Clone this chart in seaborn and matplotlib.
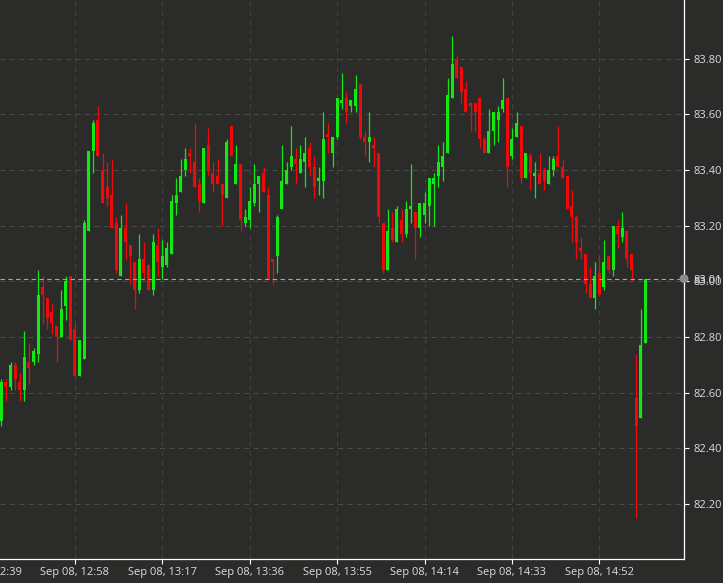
import matplotlib
matplotlib.use("Agg")
import matplotlib.pyplot as plt
import seaborn as sns
import pandas as pd
import numpy as np

# ---- data: 1-minute candles, Sep 08 12:42 -> 15:02 ----
opens = [
    82.50, 82.64, 82.62, 82.70, 82.64, 82.61, 82.71, 82.71, 82.74, 82.98,
    82.94, 82.89, 82.84, 82.80, 82.91, 83.02, 82.83, 82.66, 82.72, 83.18,
    83.47, 83.58, 83.40, 83.34, 83.31, 83.21, 83.02, 83.19, 83.13, 83.07,
    82.97, 83.08, 83.06, 82.97, 83.13, 83.05, 83.06, 83.10, 83.28, 83.32,
    83.40, 83.46, 83.43, 83.35, 83.28, 83.49, 83.39, 83.38, 83.35, 83.30,
    83.56, 83.35, 83.42, 83.21, 83.22, 83.28, 83.35, 83.39, 83.31, 83.08,
    83.09, 83.26, 83.35, 83.41, 83.44, 83.39, 83.43, 83.48, 83.41, 83.36,
    83.36, 83.53, 83.46, 83.52, 83.64, 83.66, 83.63, 83.63, 83.71, 83.52,
    83.50, 83.49, 83.46, 83.21, 83.04, 83.19, 83.14, 83.22, 83.17, 83.26,
    83.25, 83.19, 83.24, 83.27, 83.35, 83.38, 83.41, 83.46, 83.66, 83.80,
    83.77, 83.69, 83.64, 83.64, 83.66, 83.51, 83.46, 83.54, 83.58, 83.62,
    83.66, 83.45, 83.52, 83.56, 83.37, 83.45, 83.38, 83.39, 83.40, 83.35,
    83.40, 83.45, 83.41, 83.38, 83.27, 83.23, 83.12, 83.10, 82.99, 82.94,
    83.03, 82.98, 83.09, 83.04, 83.20, 83.16, 83.18, 83.10, 82.58, 82.51,
    82.78,
]
closes = [
    82.64, 82.62, 82.70, 82.65, 82.61, 82.73, 82.69, 82.75, 82.95, 82.95,
    82.87, 82.85, 82.80, 82.90, 83.00, 82.79, 82.66, 82.79, 83.21, 83.47,
    83.57, 83.45, 83.28, 83.30, 83.19, 83.04, 83.19, 83.14, 83.09, 82.97,
    83.08, 83.03, 82.97, 83.14, 83.07, 83.09, 83.12, 83.29, 83.31, 83.38,
    83.44, 83.45, 83.34, 83.29, 83.48, 83.40, 83.35, 83.35, 83.31, 83.50,
    83.45, 83.42, 83.22, 83.23, 83.29, 83.35, 83.38, 83.32, 83.01, 83.07,
    83.23, 83.36, 83.40, 83.45, 83.42, 83.44, 83.46, 83.41, 83.34, 83.37,
    83.51, 83.52, 83.52, 83.66, 83.65, 83.61, 83.65, 83.69, 83.52, 83.50,
    83.52, 83.48, 83.23, 83.04, 83.18, 83.15, 83.26, 83.17, 83.26, 83.27,
    83.19, 83.28, 83.28, 83.37, 83.37, 83.43, 83.45, 83.67, 83.78, 83.73,
    83.68, 83.61, 83.63, 83.61, 83.51, 83.46, 83.54, 83.61, 83.61, 83.65,
    83.41, 83.51, 83.57, 83.37, 83.46, 83.39, 83.39, 83.35, 83.36, 83.40,
    83.44, 83.41, 83.37, 83.26, 83.23, 83.14, 83.11, 82.99, 82.94, 83.02,
    82.95, 83.07, 83.04, 83.20, 83.17, 83.19, 83.08, 83.04, 82.48, 82.77,
    83.01,
]
highs = [
    82.65, 82.65, 82.71, 82.71, 82.67, 82.82, 82.78, 82.76, 83.04, 83.02,
    82.94, 82.92, 82.84, 82.97, 83.02, 83.02, 82.85, 82.79, 83.22, 83.47,
    83.58, 83.63, 83.46, 83.43, 83.44, 83.23, 83.24, 83.28, 83.13, 83.07,
    83.17, 83.14, 83.06, 83.17, 83.19, 83.15, 83.14, 83.31, 83.37, 83.44,
    83.48, 83.48, 83.57, 83.37, 83.48, 83.55, 83.43, 83.44, 83.35, 83.51,
    83.56, 83.49, 83.42, 83.26, 83.34, 83.42, 83.38, 83.41, 83.34, 83.08,
    83.24, 83.49, 83.43, 83.56, 83.48, 83.49, 83.52, 83.50, 83.45, 83.41,
    83.61, 83.57, 83.52, 83.66, 83.75, 83.68, 83.65, 83.74, 83.71, 83.54,
    83.61, 83.52, 83.46, 83.21, 83.26, 83.25, 83.27, 83.26, 83.29, 83.42,
    83.25, 83.28, 83.32, 83.37, 83.39, 83.49, 83.50, 83.73, 83.88, 83.81,
    83.77, 83.72, 83.64, 83.64, 83.66, 83.52, 83.62, 83.61, 83.63, 83.73,
    83.66, 83.55, 83.61, 83.56, 83.46, 83.46, 83.43, 83.46, 83.41, 83.45,
    83.45, 83.56, 83.44, 83.38, 83.33, 83.24, 83.16, 83.10, 83.05, 83.07,
    83.09, 83.15, 83.09, 83.20, 83.22, 83.25, 83.18, 83.10, 82.74, 82.90,
    83.01,
]
lows = [
    82.48, 82.57, 82.61, 82.61, 82.57, 82.57, 82.63, 82.70, 82.71, 82.85,
    82.83, 82.81, 82.71, 82.80, 82.86, 82.79, 82.66, 82.66, 82.72, 83.18,
    83.39, 83.45, 83.28, 83.27, 83.19, 83.03, 83.02, 83.08, 82.99, 82.90,
    82.96, 83.01, 82.97, 82.95, 83.02, 83.01, 83.05, 83.10, 83.24, 83.32,
    83.38, 83.39, 83.34, 83.25, 83.28, 83.38, 83.32, 83.35, 83.20, 83.30,
    83.45, 83.35, 83.18, 83.20, 83.19, 83.27, 83.25, 83.32, 83.01, 82.99,
    83.03, 83.26, 83.35, 83.40, 83.35, 83.39, 83.34, 83.38, 83.30, 83.31,
    83.30, 83.46, 83.41, 83.51, 83.62, 83.57, 83.61, 83.61, 83.51, 83.45,
    83.43, 83.41, 83.21, 83.03, 83.04, 83.14, 83.14, 83.14, 83.16, 83.21,
    83.08, 83.16, 83.21, 83.20, 83.20, 83.34, 83.36, 83.46, 83.66, 83.73,
    83.64, 83.61, 83.54, 83.54, 83.48, 83.46, 83.46, 83.49, 83.50, 83.61,
    83.34, 83.44, 83.52, 83.35, 83.37, 83.33, 83.30, 83.35, 83.33, 83.35,
    83.38, 83.41, 83.37, 83.26, 83.14, 83.08, 83.08, 82.96, 82.94, 82.90,
    82.95, 82.97, 83.03, 83.02, 83.12, 83.14, 83.05, 83.00, 82.15, 82.51,
    82.78,
]
start_time = "2023-09-08 12:42"
tick_times = ["12:39", "12:58", "13:17", "13:36", "13:55", "14:14", "14:33", "14:52"]
y_ticks = [82.20, 82.40, 82.60, 82.80, 83.00, 83.20, 83.40, 83.60, 83.80]
last_price = closes[-1]

# ---- styling ----
BG = "#2b2c2a"
GREEN = "#12e812"
RED = "#ee0a0a"
TXT = "#dcdcdc"
FS = 8.0
TICK_LEN = 3.5
YPAD = 3.0
XPAD = 2.0

sns.set_theme(style="dark", rc={
    "axes.facecolor": BG,
    "figure.facecolor": BG,
    "axes.edgecolor": "white",
    "text.color": TXT,
    "xtick.color": "white",
    "ytick.color": "white",
})
plt.rcParams["font.family"] = ["Open Sans", "DejaVu Sans"]

n = len(opens)
t0 = pd.Timestamp(start_time)
df = pd.DataFrame({
    "time": [t0 + pd.Timedelta(minutes=i) for i in range(n)],
    "open": opens, "high": highs, "low": lows, "close": closes,
})
df["x"] = (df["time"] - t0).dt.total_seconds() / 60.0
df["up"] = df["close"] >= df["open"]
df["color"] = np.where(df["up"], GREEN, RED)
df["bottom"] = df[["open", "close"]].min(axis=1)
df["height"] = (df["close"] - df["open"]).abs().clip(lower=0.004)

fig = plt.figure(figsize=(7.23, 5.83), dpi=100)
ax = fig.add_axes([0, 24 / 583, 684 / 723, 559 / 583])
ax.set_facecolor(BG)

def tpos(hm):
    t = pd.Timestamp("2023-09-08 " + hm)
    return (t - t0).total_seconds() / 60.0

xt = [tpos(h) for h in tick_times]
for y in y_ticks:
    ax.axhline(y, color="#4a4b48", lw=0.75, dashes=(5, 4), zorder=0)
for x in xt:
    ax.axvline(x, color="#40413e", lw=0.75, dashes=(5, 4), zorder=0)

# wicks and bodies
ax.vlines(df["x"], df["low"], df["high"], colors=df["color"], lw=0.9, zorder=2)
ax.bar(df["x"], df["height"], bottom=df["bottom"], width=0.65,
       color=df["color"], linewidth=0, zorder=3)

# last price line
ax.axhline(last_price, color="#a8a8a8", lw=0.8, dashes=(4, 3), zorder=4)

ax.set_xlim(-0.3, 148.4)
ax.set_ylim(82.0025, 84.011)

for s in ["left", "top"]:
    ax.spines[s].set_visible(False)
for s in ["right", "bottom"]:
    ax.spines[s].set_color("white")
    ax.spines[s].set_linewidth(0.9)

ax.yaxis.tick_right()
ax.set_yticks(y_ticks)
ax.set_yticklabels([f"{v:.2f}" for v in y_ticks], color=TXT, fontsize=FS)
ax.tick_params(axis="y", which="major", length=TICK_LEN, width=0.8, pad=YPAD,
               right=True, left=False)

vis_ticks = [(x, h) for x, h in zip(xt, tick_times) if x >= -0.3]
ax.set_xticks([x for x, _ in vis_ticks])
ax.set_xticklabels([f"Sep 08, {h}" for _, h in vis_ticks], color=TXT, fontsize=FS)
ax.tick_params(axis="x", which="major", length=TICK_LEN, width=0.8, pad=XPAD, bottom=True)

# first tick label, centred left of the plot edge (clipped by the figure)
ax.annotate(f"Sep 08, {tick_times[0]}", xy=(xt[0], 0), xycoords=ax.get_xaxis_transform(),
            xytext=(0, -(TICK_LEN + XPAD)), textcoords="offset points",
            ha="center", va="top", color=TXT, fontsize=FS, annotation_clip=False)

# last price marker and label on the right axis
sns.scatterplot(x=[148.4], y=[last_price], ax=ax, s=40, color="#8c8c8c",
                edgecolor="none", zorder=6, clip_on=False, legend=False)
ax.annotate(f"{last_price:.2f}", xy=(1.0, last_price), xycoords=ax.get_yaxis_transform(),
            xytext=(TICK_LEN + YPAD, 0), textcoords="offset points",
            ha="left", va="center_baseline", color=TXT, fontsize=FS, annotation_clip=False)

ax.set_xlabel("")
ax.set_ylabel("")
fig.savefig("out.png", dpi=100, facecolor=BG)
